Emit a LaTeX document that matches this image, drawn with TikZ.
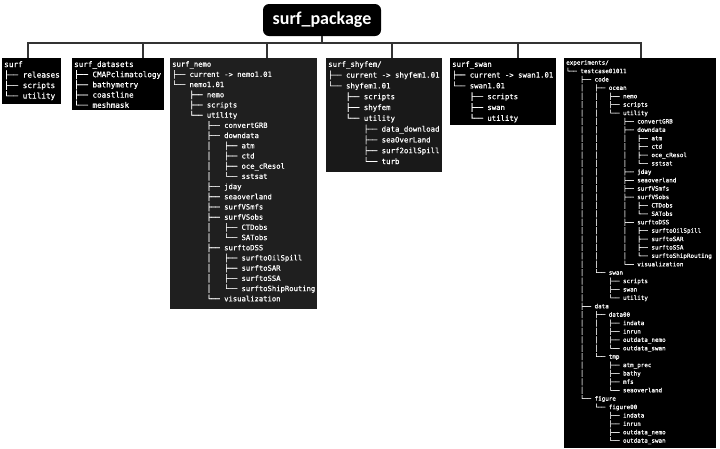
\documentclass[tikz,border=0pt]{standalone}
\usepackage{fontspec}
\newfontfamily\treefont[FakeBold=0.5]{DejaVu Sans Mono}
\newfontfamily\titlefont{Carlito}
\newcommand{\tsp}[1]{\hspace*{#1\fontcharwd\font`\m}}
\newcommand{\brT}{├──\ }
\newcommand{\brL}{└──\ }
\newcommand{\brV}{│\tsp{3}}
\newcommand{\brE}{\tsp{4}}
\tikzset{
  panel/.style={fill=black, draw=none, inner sep=0pt, outer sep=0pt, anchor=north west},
  tree/.style={anchor=north west, inner sep=0pt, align=left, text=white},
  conn/.style={draw=black!80, line width=1.1pt},
  titlebox/.style={fill=black, rounded corners=6pt, minimum width=118pt, minimum height=32pt,
    text=white, inner sep=0pt, font=\titlefont\bfseries\fontsize{18}{21}\selectfont}
}
\begin{document}
\begin{tikzpicture}[x=1pt,y=-1pt]
\useasboundingbox (0,0) rectangle (720,448);
% title
\node[titlebox] (title) at (322,20) {surf\_package};
% panels
\node[panel, minimum width=59pt, minimum height=46pt] (p1) at (2,58) {};
\node[panel, minimum width=92pt, minimum height=52pt] (p2) at (72,58) {};
\node[panel, fill=black!88, minimum width=147pt, minimum height=251pt] (p3) at (170,58) {};
\node[panel, fill=black!90, minimum width=116pt, minimum height=114pt] (p4) at (326,58) {};
\node[panel, minimum width=106pt, minimum height=67pt] (p5) at (450,58) {};
\node[panel, minimum width=152pt, minimum height=390pt] (p6) at (564,58) {};
% connectors
\coordinate (bus) at (0,43);
\coordinate (t1) at (28,58);
\coordinate (t2) at (143,58);
\coordinate (t3) at (267,58);
\coordinate (t4) at (392,58);
\coordinate (t5) at (518,58);
\coordinate (t6) at (641,58);
\draw[conn] (title.south) -- (title.south |- bus);
\draw[conn] (t1) -- (t1 |- bus) -- (t6 |- bus) -- (t6);
\foreach \i in {2,3,4,5} \draw[conn] (t\i |- bus) -- (t\i);
% texts
\node[tree, font=\treefont\fontsize{7.7}{10.5}\selectfont] (x1) at (4,61) {%
surf\\
\brT releases\\
\brT scripts\\
\brL utility};
\node[tree, font=\treefont\fontsize{7.6}{10.2}\selectfont] (x2) at (74,61) {%
surf\_datasets\\
\brT CMAPclimatology\\
\brT bathymetry\\
\brT coastline\\
\brL meshmask};
\node[tree, font=\treefont\fontsize{7.2}{10.2}\selectfont] (x3) at (172,61) {%
surf\_nemo\\
\brT current -> nemo1.01\\
\brL nemo1.01\\
\brE\brT nemo\\
\brE\brT scripts\\
\brE\brL utility\\
\brE\brE\brT convertGRB\\
\brE\brE\brT downdata\\
\brE\brE\brV\brT atm\\
\brE\brE\brV\brT ctd\\
\brE\brE\brV\brT oce\_cResol\\
\brE\brE\brV\brL sstsat\\
\brE\brE\brT jday\\
\brE\brE\brT seaoverland\\
\brE\brE\brT surfVSmfs\\
\brE\brE\brT surfVSobs\\
\brE\brE\brV\brT CTDobs\\
\brE\brE\brV\brL SATobs\\
\brE\brE\brT surftoDSS\\
\brE\brE\brV\brT surftoOilSpill\\
\brE\brE\brV\brT surftoSAR\\
\brE\brE\brV\brT surftoSSA\\
\brE\brE\brV\brL surftoShipRouting\\
\brE\brE\brL visualization};
\node[tree, font=\treefont\fontsize{7.4}{10.8}\selectfont] (x4) at (328,61) {%
surf\_shyfem/\\
\brT current -> shyfem1.01\\
\brL shyfem1.01\\
\brE\brT scripts\\
\brE\brT shyfem\\
\brE\brL utility\\
\brE\brE\brT data\_download\\
\brE\brE\brT seaOverLand\\
\brE\brE\brT surf2oilSpill\\
\brE\brE\brL turb};
\node[tree, font=\treefont\fontsize{7.3}{10.8}\selectfont] (x5) at (452,61) {%
surf\_swan\\
\brT current -> swan1.01\\
\brL swan1.01\\
\brE\brT scripts\\
\brE\brT swan\\
\brE\brL utility};
\node[tree, font=\treefont\fontsize{5.9}{8.4}\selectfont] (x6) at (566,60) {%
experiments/\\
\brL testcase01011\\
\brE\brT code\\
\brE\brV\brT ocean\\
\brE\brV\brV\brT nemo\\
\brE\brV\brV\brT scripts\\
\brE\brV\brV\brL utility\\
\brE\brV\brV\brE\brT convertGRB\\
\brE\brV\brV\brE\brT downdata\\
\brE\brV\brV\brE\brV\brT atm\\
\brE\brV\brV\brE\brV\brT ctd\\
\brE\brV\brV\brE\brV\brT oce\_cResol\\
\brE\brV\brV\brE\brV\brL sstsat\\
\brE\brV\brV\brE\brT jday\\
\brE\brV\brV\brE\brT seaoverland\\
\brE\brV\brV\brE\brT surfVSmfs\\
\brE\brV\brV\brE\brT surfVSobs\\
\brE\brV\brV\brE\brV\brT CTDobs\\
\brE\brV\brV\brE\brV\brL SATobs\\
\brE\brV\brV\brE\brT surftoDSS\\
\brE\brV\brV\brE\brV\brT surftoOilSpill\\
\brE\brV\brV\brE\brV\brT surftoSAR\\
\brE\brV\brV\brE\brV\brT surftoSSA\\
\brE\brV\brV\brE\brV\brL surftoShipRouting\\
\brE\brV\brV\brE\brL visualization\\
\brE\brV\brL swan\\
\brE\brV\brE\brT scripts\\
\brE\brV\brE\brT swan\\
\brE\brV\brE\brL utility\\
\brE\brT data\\
\brE\brV\brT data00\\
\brE\brV\brV\brT indata\\
\brE\brV\brV\brT inrun\\
\brE\brV\brV\brT outdata\_nemo\\
\brE\brV\brV\brL outdata\_swan\\
\brE\brV\brL tmp\\
\brE\brV\brE\brT atm\_prec\\
\brE\brV\brE\brT bathy\\
\brE\brV\brE\brT mfs\\
\brE\brV\brE\brL seaoverland\\
\brE\brL figure\\
\brE\brE\brL figure00\\
\brE\brE\brE\brT indata\\
\brE\brE\brE\brT inrun\\
\brE\brE\brE\brT outdata\_nemo\\
\brE\brE\brE\brL outdata\_swan};
\end{tikzpicture}
\end{document}
